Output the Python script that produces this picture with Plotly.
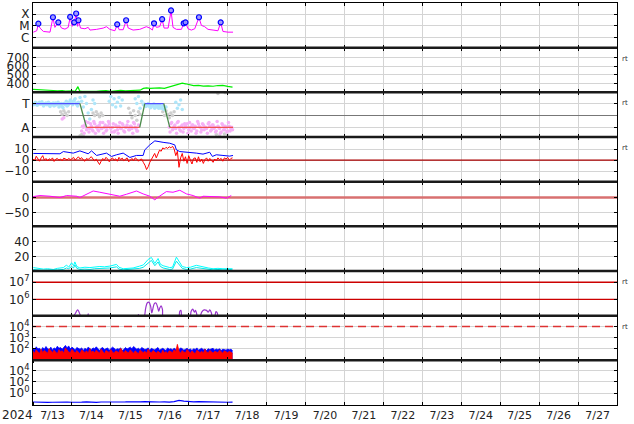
import pandas as pd
import plotly.graph_objects as go
from plotly.subplots import make_subplots

BASE = pd.Timestamp("2024-07-13")
X_END = pd.Timestamp("2024-07-28")

# ---------------- data (hours after 2024-07-13 00:00) ----------------
# Panel 1: X-ray flux (log10)
xray_hours = [0.2, 2.3, 3.3, 4.3, 6.4, 10.5, 12.3, 13.5, 15.6, 17.6, 19.7, 21.7, 22.9, 24.2, 25.4, 26.6, 27.5, 28.0,
              29.3, 32.0, 34.0, 35.1, 39.2, 43.3, 45.3, 47.4, 50.5, 51.9, 53.1, 55.6, 57.4, 58.7, 61.7, 65.8, 69.9,
              72.0, 73.6, 74.6, 76.1, 78.1, 79.6, 80.8, 83.3, 85.1, 86.3, 88.4, 91.5, 92.9, 94.0, 95.6, 97.6, 99.7,
              102.3, 103.8, 105.8, 107.9, 111.0, 114.0, 115.7, 117.1, 120.2, 123.3]
xray_log = [-5.54, -5.42, -4.85, -5.19, -5.48, -5.54, -4.28, -5.13, -4.72, -5.19, -5.28, -5.13, -4.25, -5.04, -4.72,
            -3.96, -5.04, -4.55, -5.19, -5.25, -5.13, -5.36, -5.30, -5.19, -5.07, -5.30, -5.42, -4.88, -5.33, -5.33,
            -4.55, -5.19, -5.36, -5.30, -5.07, -5.19, -5.36, -4.80, -5.13, -5.07, -4.45, -5.19, -5.19, -3.70, -5.13,
            -5.30, -5.30, -4.80, -4.72, -5.25, -5.36, -5.25, -4.28, -4.96, -5.07, -5.30, -5.36, -5.42, -4.72, -5.48,
            -5.54, -5.54]
flare_hours = [3.3, 12.3, 15.6, 22.9, 25.4, 26.6, 28.0, 51.9, 57.4, 74.6, 79.6, 85.1, 92.9, 94.0, 102.3, 115.7]
flare_log = [-4.81, -4.26, -4.70, -4.23, -4.70, -3.94, -4.52, -4.87, -4.52, -4.78, -4.43, -3.68, -4.78, -4.70,
             -4.26, -4.70]

# Panel 2: solar wind speed
sw_hours = [0, 3, 6, 9, 12, 15, 18, 20, 24, 26, 27.7, 28.7, 30, 33, 36, 39, 42, 45, 48, 51, 54, 57, 60, 63, 66, 68,
            70, 72, 75, 78, 81, 84, 87, 90, 92, 94, 96, 99, 102, 105, 108, 111, 114, 117, 120, 123]
sw_speed = [335, 330, 325, 328, 322, 318, 320, 315, 318, 312, 365, 318, 312, 310, 308, 310, 318, 320, 312, 318,
            322, 318, 320, 315, 325, 345, 350, 345, 348, 352, 345, 360, 375, 395, 405, 398, 390, 378, 380, 372,
            375, 370, 378, 380, 368, 360]

# Panel 3: sector polarity (T = +1, A = -1)
pol_hours = [0, 28.9, 33.0, 65.8, 68.9, 80.6, 84.3, 123.3]
pol_vals = [1, 1, -1, -1, 1, 1, -1, -1]
lb_hours = [0, 1, 2, 3, 4, 5, 6, 7, 8, 9, 10, 11, 12, 13, 14, 15, 16, 17, 18, 19, 20, 21, 22, 23, 24, 25, 26, 27,
            28, 29, 30, 31, 32, 33, 34, 35, 36, 37, 38, 47, 48, 49, 50, 51, 52, 53, 54, 55, 63, 64, 65, 66, 67, 68,
            69, 70, 71, 72, 73, 74, 75, 76, 77, 78, 79, 80, 81, 82, 88, 89, 90, 91, 92]
lb_vals = [1.0, 0.95, 1.05, 0.9, 1.1, 0.95, 1.0, 0.9, 1.05, 0.95, 0.85, 1.0, 0.9, 0.8, 1.05, 0.95, 0.7, 0.9, 0.75,
           1.0, 0.9, 0.8, 1.1, 1.3, 1.0, 1.2, 1.4, 0.9, 1.1, 1.5, 1.2, 0.7, 1.6, 1.0, 0.2, -0.3, 0.5, 1.3, 1.0,
           1.2, 1.6, 0.9, 1.4, 0.7, 1.1, 1.5, 0.8, 1.3, 1.4, 1.0, 1.6, 0.6, 1.2, 0.9, 0.9, 0.8, 1.0, 0.7, 0.9,
           0.8, 0.6, 0.9, 0.7, 0.85, 0.6, 0.8, 0.5, 0.7, 1.1, 0.6, 0.9, 1.3, 0.5]
lb_half_a = [0.9, 1.1, 0.85, 1.05, 0.95, 1.15, 0.8, 1.0, 0.9, 1.1, 0.75, 0.95, 1.05, 0.85, 0.9, 1.1, 0.8, 1.0,
             0.65, 0.95, 1.2, 0.85, 1.0, 1.15, 0.9, 1.3, 1.05, 0.8]          # 0.5 h .. 27.5 h
lb_half_b = [0.95, 0.75, 0.9, 0.85, 0.65, 0.8, 0.95, 0.7, 0.85, 0.6, 0.8, 0.75, 0.55, 0.7]  # 68.5 h .. 81.5 h
gr_hours = [17, 18, 19, 20, 21, 22, 29, 30, 31, 37, 38, 39, 40, 41, 42, 43, 59, 60, 61, 62, 63, 64, 65, 66, 80, 81,
            82, 83, 84, 85, 86, 87, 113, 114, 115, 118, 118.5, 120]
gr_vals = [0.3, 0.1, 0.4, 0.2, 0.0, 0.3, -1.7, -1.6, -1.75, 0.2, 0.0, 0.3, 0.1, -0.1, 0.2, 0.0, 0.6, 0.2, -0.2, 0.4,
           0.0, -0.4, 0.3, 0.1, 0.3, 0.0, 0.4, 0.1, -0.2, 0.2, 0.0, 0.3, -1.6, 1.85, -1.7, -1.55, 1.9, -1.65]
pk_hours = [18, 19, 30, 31, 32, 33, 34, 35, 36, 37, 38, 39, 40, 41, 42, 43, 44, 45, 46, 47, 48, 49, 50, 51, 52, 53,
            54, 55, 56, 57, 58, 59, 60, 61, 62, 63, 64, 65, 84, 85, 86, 87, 88, 89, 90, 91, 92, 93, 94, 95, 96, 97,
            98, 99, 100, 101, 102, 103, 104, 105, 106, 107, 108, 109, 110, 111, 112, 113, 114, 115, 116, 117, 118,
            119, 120, 121, 122, 123]
pk_vals = [-0.3, -0.2, -1.3, -1.0, -0.8, -1.2, -0.6, -1.1, -0.9, -1.3, -0.7, -1.0, -1.2, -0.8, -1.1, -0.6, -1.0,
           -1.3, -0.9, -0.7, -1.1, -1.0, -1.4, -0.8, -1.2, -0.9, -1.1, -0.7, -1.3, -1.0, -0.8, -1.2, -0.9, -1.1,
           -0.6, -1.0, -1.3, -0.8, -1.0, -0.7, -1.2, -0.9, -1.1, -0.6, -1.0, -1.3, -0.8, -1.1, -0.9, -0.7, -1.2,
           -1.0, -0.8, -1.1, -0.9, -1.3, -0.7, -1.0, -1.2, -0.8, -1.0, -1.1, -0.7, -0.9, -1.2, -0.8, -1.0, -1.3,
           -0.9, -1.1, -1.4, -0.8, -1.2, -1.0, -1.3, -0.9, -1.1, -1.2]
pk_half_a = [-0.9, -1.5, -0.5, -1.1, -1.4, -0.7, -1.2, -0.5, -1.5, -0.9, -1.3, -0.6, -1.1, -1.5, -0.8, -1.2, -0.5,
             -1.0, -1.4, -0.7, -1.3, -0.9, -1.5, -0.6, -1.1, -0.8, -1.4, -1.0, -0.5, -1.2, -0.9, -1.5, -0.7, -1.1,
             -1.3]                                                            # 30.5 h .. 64.5 h
pk_half_b = [-1.4, -0.6, -1.1, -0.8, -1.5, -0.5, -1.2, -0.9, -1.4, -0.7, -1.0, -1.5, -0.6, -1.3, -0.8, -1.1, -1.5,
             -0.5, -0.9, -1.4, -0.7, -1.2, -1.0, -1.5, -0.6, -1.3, -0.8, -1.1, -1.4, -0.5, -1.0, -1.5, -0.7, -1.2,
             -0.9, -1.4, -0.6, -1.3, -1.0]                                    # 84.5 h .. 122.5 h

# Panel 4: IMF Bt and Bz (nT)
bt_hours = [0.2, 8.4, 16.6, 18.7, 24.8, 28.9, 34.0, 36.1, 39.2, 45.3, 48.4, 51.5, 55.6, 59.7, 63.8, 67.9, 68.9, 72.0,
            75.1, 80.2, 84.3, 87.4, 88.4, 90.5, 96.6, 100.7, 104.8, 108.9, 110.6, 113.0, 117.1, 121.2, 123.3]
bt_vals = [6.0, 5.7, 5.7, 7.7, 6.3, 8.3, 5.7, 8.3, 4.2, 6.3, 3.3, 4.8, 6.3, 2.4, 4.2, 4.2, 9.2, 13.7, 17.3, 16.0,
           15.2, 13.7, 9.2, 7.7, 7.1, 6.3, 5.4, 7.1, 3.3, 4.8, 4.2, 3.6, 4.2]
bz_vals = [1.0, -0.5, 3.5, 0.5, -1.0, 2.0, 4.0, 0.0, 1.5, -0.8, 1.2, 0.3, 2.0, -1.2, 0.8, 1.5, 0.0, 1.0, -0.5, 1.8,
           1.0, 0.2, 1.5, 0.5, 1.2, 2.5, 0.0, 1.8, 3.0, 1.0, 2.2, 0.2, -1.0, 1.5, 0.5, 2.0, 3.0, 1.0, -0.5, 0.8,
           -2.0, -4.0, -1.0, 1.5, 0.0, 2.5, 1.0, -1.5, 0.8, 2.0, 0.0, 1.2, -1.0, 2.5, 0.5, 1.8, -0.5, 1.0, 2.0,
           -1.5, 0.5, 1.5, -0.5, 2.0, 1.0, -1.0, 0.5, 1.0, -2.0, -4.5, -8.5, -6.0, -2.0, 1.0, 3.5, 6.0, 2.0, 5.0,
           9.0, 8.0, 11.0, 10.0, 11.5, 10.5, 12.0, 11.0, 12.5, 10.0, 4.0, 8.0, -6.5, 2.0, 6.0, -1.0, 3.0, -3.0,
           4.0, 0.0, -3.5, 1.5, 2.0, -2.0, 3.0, -1.5, 1.0, -3.0, 0.5, 2.0, -1.0, 1.5, 0.0, -2.0, 1.0, -0.5, 2.0,
           0.5, 1.5, -1.0, 2.0, 1.0, 2.5, 0.0, 1.5, 2.0]

# Panel 5
p5_hours = [0.2, 4.3, 10.5, 16.6, 20.7, 26.9, 28.9, 33.0, 37.1, 41.2, 47.4, 53.5, 57.6, 63.8, 67.9, 72.0, 75.1, 77.1,
            82.2, 86.3, 90.5, 94.6, 98.7, 102.8, 104.8, 110.9, 115.1, 119.2, 122.2]
p5_vals = [3.3, 6.7, 4.4, 0.0, 6.7, 4.4, 0.0, 12.2, 22.0, 17.8, 12.2, 4.4, 11.0, 22.0, 12.2, 4.4, -7.8, 1.1, 20.0,
           17.8, 24.4, 12.2, 6.7, -2.2, 4.4, 2.2, 2.2, -2.2, 6.7]

# Panel 6
c_hours = [0.2, 3, 6.4, 9, 12.5, 15, 18.7, 20.7, 22, 23.8, 25, 25.8, 27, 28.9, 32, 35.1, 38, 41.2, 44, 47.4, 51.5,
           53, 55.6, 58, 61.7, 65.8, 68, 71, 73, 75.1, 77.1, 78.5, 80.2, 84.3, 86, 88.4, 90.5, 92, 94.6, 97, 100.7,
           104.8, 108, 111, 114, 117.1, 121.2, 123]
cA_vals = [5.5, 4.5, 3.5, 4.0, 3.0, 4.5, 5.5, 8.8, 6.0, 11.9, 8.0, 13.0, 7.0, 5.0, 6.0, 5.5, 6.5, 7.0, 6.5, 7.5, 9.7,
           6.0, 4.0, 4.5, 5.0, 7.5, 9.0, 16.3, 18.9, 11.0, 17.5, 10.0, 8.0, 5.5, 6.0, 19.3, 11.0, 7.0, 5.5, 6.0,
           8.5, 6.0, 5.0, 4.0, 4.5, 4.0, 4.5, 4.0]
cB_vals = [3.0, 2.5, 2.0, 2.5, 2.0, 2.5, 3.0, 5.0, 4.0, 7.0, 5.0, 9.0, 4.5, 3.0, 3.5, 3.0, 4.0, 4.5, 4.0, 5.0, 6.5,
           3.5, 2.5, 3.0, 3.0, 4.5, 6.0, 12.0, 15.0, 8.0, 13.0, 7.0, 5.0, 3.0, 3.5, 14.0, 8.0, 4.5, 3.0, 3.5, 5.5,
           4.0, 3.0, 2.5, 3.0, 2.5, 3.0, 2.5]

# Panel 7: electron flux (log10)
ef_hours = [24, 26, 27.5, 29, 30, 33.5, 34, 34.5, 64.5, 65, 65.5, 68, 69.5, 70.5, 71.5, 72.5, 73.2, 73.8, 74.8, 75.8,
            76.8, 77.5, 78.2, 79, 79.8, 80.5, 89.5, 90.5, 91.2, 92, 96.5, 97.5, 98.5, 99.5, 100.2, 101, 101.5, 103,
            104, 105.5, 107, 108, 109, 110, 110.5, 112, 112.8, 113.6, 114]
ef_log = [4.8, 5.15, 5.38, 5.1, 4.8, 4.9, 5.15, 4.9, 4.9, 5.1, 4.9, 4.8, 5.5, 5.8, 5.82, 5.6, 5.2, 5.4, 5.75, 5.78,
          5.55, 5.3, 5.5, 5.62, 5.4, 4.9, 4.9, 5.3, 5.35, 4.9, 4.9, 5.3, 5.42, 5.25, 5.35, 5.1, 4.9, 5.0, 5.25,
          5.38, 5.35, 5.25, 5.38, 5.2, 4.9, 5.0, 5.28, 5.2, 4.9]
ef_thresholds = [1e7, 1e6]

# Panel 8: hourly values
p8_blue = [120, 80, 150, 95, 110, 70, 130, 90, 160, 100, 85, 140, 75, 120, 95, 170, 110, 130, 90, 150, 200, 120,
           180, 95, 140, 110, 75, 130, 100, 90, 120, 70, 110, 85, 140, 95, 80, 120, 100, 150, 90, 70, 110, 130, 85,
           100, 120, 75, 95, 140, 110, 80, 100, 90, 120, 70, 85, 130, 95, 110, 140, 100, 160, 120, 90, 110, 80,
           130, 100, 85, 95, 120, 70, 110, 90, 80, 100, 130, 75, 95, 110, 85, 70, 120, 90, 100, 80, 110, 95, 70,
           85, 120, 100, 75, 90, 110, 80, 95, 70, 100, 85, 120, 75, 90, 110, 80, 95, 70, 100, 85, 90, 110, 75, 95,
           80, 100, 70, 90, 85, 75, 95, 80, 90, 70]
p8_red = [60, 40, 80, 50, 35, 90, 45, 70, 55, 40, 100, 60, 45, 75, 50, 35, 85, 55, 65, 40, 120, 70, 50, 45, 90, 60,
          40, 70, 50, 35, 80, 55, 45, 65, 40, 100, 50, 60, 45, 75, 55, 40, 90, 50, 35, 70, 60, 45, 85, 50, 40, 65,
          55, 45, 110, 60, 40, 70, 50, 45, 80, 55, 40, 65, 50, 35, 75, 55, 45, 60, 40, 90, 50, 45, 70, 55, 40, 60,
          50, 35, 75, 45, 55, 40, 65, 50, 45, 80, 55, 250, 60, 40, 70, 50, 45, 85, 55, 40, 65, 50, 35, 75, 55, 45,
          60, 40, 90, 50, 45, 70, 55, 40, 60, 50, 45, 75, 50, 40, 65, 55, 45, 60, 50, 40]
p8_threshold = 1e4

# Panel 9: 3-hourly values
p9_vals = [0.025, 0.022, 0.024, 0.021, 0.023, 0.025, 0.022, 0.024, 0.023, 0.021, 0.024, 0.026, 0.023, 0.022, 0.025,
           0.024, 0.027, 0.025, 0.023, 0.026, 0.028, 0.025, 0.027, 0.03, 0.026, 0.028, 0.025, 0.027, 0.024, 0.03,
           0.05, 0.035, 0.028, 0.026, 0.029, 0.027, 0.025, 0.026, 0.024, 0.025, 0.023, 0.024]


def tt(hours):
    return [BASE + pd.Timedelta(hours=h) for h in hours]


def half_hours(start, n):
    return [start + i for i in range(n)]


FULL_X = [BASE, X_END]
fig = make_subplots(rows=9, cols=1, shared_xaxes=True, vertical_spacing=0)

# Panel 1
fig.add_trace(go.Scatter(x=tt(xray_hours), y=[10 ** v for v in xray_log], mode="lines",
                         line=dict(color="#ff00ff", width=1)), row=1, col=1)
fig.add_trace(go.Scatter(x=tt(flare_hours), y=[10 ** v for v in flare_log], mode="markers",
                         marker=dict(symbol="circle", size=5, color="rgba(150,150,255,0.9)",
                                     line=dict(color="#0000ff", width=1.2))), row=1, col=1)
# Panel 2
fig.add_trace(go.Scatter(x=tt(sw_hours), y=sw_speed, mode="lines", line=dict(color="#00ee00", width=1.2)), row=2, col=1)

# Panel 3
MS = 3.5
fig.add_trace(go.Scatter(x=tt(gr_hours), y=gr_vals, mode="markers",
                         marker=dict(size=MS, color="#cfcfcf")), row=3, col=1)
lb_x = tt(lb_hours) + tt(half_hours(0.5, len(lb_half_a))) + tt(half_hours(68.5, len(lb_half_b)))
fig.add_trace(go.Scatter(x=lb_x, y=lb_vals + lb_half_a + lb_half_b, mode="markers",
                         marker=dict(size=MS, color="#aee6fa")), row=3, col=1)
pk_x = tt(pk_hours) + tt(half_hours(30.5, len(pk_half_a))) + tt(half_hours(84.5, len(pk_half_b)))
fig.add_trace(go.Scatter(x=pk_x, y=pk_vals + pk_half_a + pk_half_b, mode="markers",
                         marker=dict(size=MS, color="#f6b0f6")), row=3, col=1)
seg = {"blue": ([], []), "red": ([], []), "green": ([], [])}
for i in range(len(pol_hours) - 1):
    a, b = pol_vals[i], pol_vals[i + 1]
    key = "blue" if (a == b == 1) else ("red" if a == b == -1 else "green")
    seg[key][0].extend([pol_hours[i], pol_hours[i + 1], None])
    seg[key][1].extend([a, b, None])
seg_colors = {"blue": "#5050ff", "red": "#f05050", "green": "#4a8a4a"}
for k, (hs, vs) in seg.items():
    xs = [BASE + pd.Timedelta(hours=h) if h is not None else None for h in hs]
    fig.add_trace(go.Scatter(x=xs, y=vs, mode="lines", line=dict(color=seg_colors[k], width=1.3),
                             connectgaps=False), row=3, col=1)

# Panel 4
fig.add_trace(go.Scatter(x=FULL_X, y=[0, 0], mode="lines", line=dict(color="#aa0000", width=1.3)), row=4, col=1)
fig.add_trace(go.Scatter(x=tt(bt_hours), y=bt_vals, mode="lines", line=dict(color="#0000ff", width=1)), row=4, col=1)
fig.add_trace(go.Scatter(x=tt(list(range(len(bz_vals)))), y=bz_vals, mode="lines",
                         line=dict(color="#ff0000", width=1)), row=4, col=1)

# Panel 5
fig.add_trace(go.Scatter(x=FULL_X, y=[0, 0], mode="lines", line=dict(color="#d87070", width=2.5)), row=5, col=1)
fig.add_trace(go.Scatter(x=tt(p5_hours), y=p5_vals, mode="lines", line=dict(color="#ff00ff", width=1)), row=5, col=1)

# Panel 6
fig.add_trace(go.Scatter(x=tt(c_hours), y=cB_vals, mode="lines", line=dict(color="#00e8e8", width=1)), row=6, col=1)
fig.add_trace(go.Scatter(x=tt(c_hours), y=cA_vals, mode="lines", line=dict(color="#00ffff", width=1)), row=6, col=1)

# Panel 7
for thr in ef_thresholds:
    fig.add_trace(go.Scatter(x=FULL_X, y=[thr, thr], mode="lines", line=dict(color="#cc0000", width=1.3)),
                  row=7, col=1)
fig.add_trace(go.Scatter(x=tt(ef_hours), y=[10 ** v for v in ef_log], mode="lines", line_shape="spline",
                         line=dict(color="#9933cc", width=1.2)), row=7, col=1)

# Panel 8
h8 = list(range(len(p8_blue)))
fig.add_trace(go.Scatter(x=tt(h8), y=[1] * len(h8), mode="lines", line=dict(width=0)), row=8, col=1)
fig.add_trace(go.Scatter(x=tt(h8), y=p8_blue, mode="lines", fill="tonexty", fillcolor="#0000ff",
                         line=dict(color="#0000ff", width=0.8)), row=8, col=1)
fig.add_trace(go.Scatter(x=tt(h8), y=[1] * len(h8), mode="lines", line=dict(width=0)), row=8, col=1)
fig.add_trace(go.Scatter(x=tt(h8), y=p8_red, mode="lines", fill="tonexty", fillcolor="#ff0000",
                         line=dict(color="#ff0000", width=0.8)), row=8, col=1)
fig.add_trace(go.Scatter(x=FULL_X, y=[p8_threshold] * 2, mode="lines",
                         line=dict(color="#dd3333", width=1.5, dash="8px,5px")), row=8, col=1)

# Panel 9
fig.add_trace(go.Scatter(x=tt([3 * i for i in range(len(p9_vals))]), y=p9_vals, mode="lines",
                         line=dict(color="#0000ff", width=1.2)), row=9, col=1)

GRID = "#d4d4d4"
FONT = "DejaVu Sans"
for r in range(1, 10):
    fig.update_xaxes(row=r, col=1, type="date", range=FULL_X, showgrid=True, gridcolor=GRID, gridwidth=1,
                     dtick=86400000, tick0=BASE, showline=True, linecolor="black", linewidth=1.2,
                     mirror="ticks", ticks="inside", ticklen=3, tickcolor="black", zeroline=False)
    fig.update_yaxes(row=r, col=1, showgrid=True, gridcolor=GRID, gridwidth=1, zeroline=False, showline=True,
                     linecolor="black", linewidth=1.2, mirror="ticks", ticks="inside", ticklen=3,
                     tickcolor="black", tickfont=dict(family=FONT, size=12, color="#222"))
fig.update_xaxes(row=9, col=1, showticklabels=True, tickformat="%-m/%-d", ticklabelmode="period",
                 tickfont=dict(family=FONT, size=11, color="#222"))

fig.update_yaxes(row=1, col=1, type="log", range=[-6.87, -3.04], tickvals=[1e-4, 1e-5, 1e-6],
                 ticktext=["X", "M", "C"])
fig.update_yaxes(row=2, col=1, range=[300, 812], tickvals=[400, 500, 600, 700])
fig.update_yaxes(row=3, col=1, range=[-1.81, 1.94], tickvals=[1, -1], ticktext=["T", "A"], zeroline=True,
                 zerolinecolor="#777777", zerolinewidth=1.3)
fig.update_yaxes(row=4, col=1, range=[-19.4, 20.8], tickvals=[-10, 0, 10])
fig.update_yaxes(row=5, col=1, range=[-96.7, 53.3], tickvals=[-50, 0])
fig.update_yaxes(row=6, col=1, range=[1, 60], tickvals=[20, 40])
fig.update_yaxes(row=7, col=1, type="log", range=[5.04, 7.66], tickvals=[1e6, 1e7],
                 ticktext=["10<sup>6</sup>", "10<sup>7</sup>"])
fig.update_yaxes(row=8, col=1, type="log", range=[0.96, 4.98], tickvals=[1e2, 1e3, 1e4],
                 ticktext=["10<sup>2</sup>", "10<sup>3</sup>", "10<sup>4</sup>"])
fig.update_yaxes(row=9, col=1, type="log", range=[-2.13, 5.8], tickvals=[1, 1e2, 1e4],
                 ticktext=["10<sup>0</sup>", "10<sup>2</sup>", "10<sup>4</sup>"])

shapes = []
for k in range(1, 9):
    shapes.append(dict(type="line", xref="paper", yref="paper", x0=0, x1=1, y0=k / 9, y1=k / 9,
                       line=dict(color="#1a1a1a", width=2.5)))
annotations = [dict(text="2024", xref="paper", yref="paper", x=-0.026, y=-0.026, xanchor="center",
                    yanchor="middle", showarrow=False, font=dict(family=FONT, size=12, color="#222"))]
for r in [2, 3, 4, 7, 8]:
    top = 1 - (r - 1) / 9
    annotations.append(dict(text="rt", xref="paper", yref="paper", x=1, y=top - 11 / 404, xanchor="left",
                            yanchor="middle", xshift=3, showarrow=False,
                            font=dict(family=FONT, size=7, color="#333")))

fig.update_layout(width=634, height=424, margin=dict(l=33, r=17, t=2, b=18), showlegend=False,
                  plot_bgcolor="white", paper_bgcolor="white", shapes=shapes, annotations=annotations,
                  font=dict(family=FONT, color="#222"))
fig.write_html("out.html", config={"displayModeBar": False},
               post_script="document.body.style.margin='0px';")
